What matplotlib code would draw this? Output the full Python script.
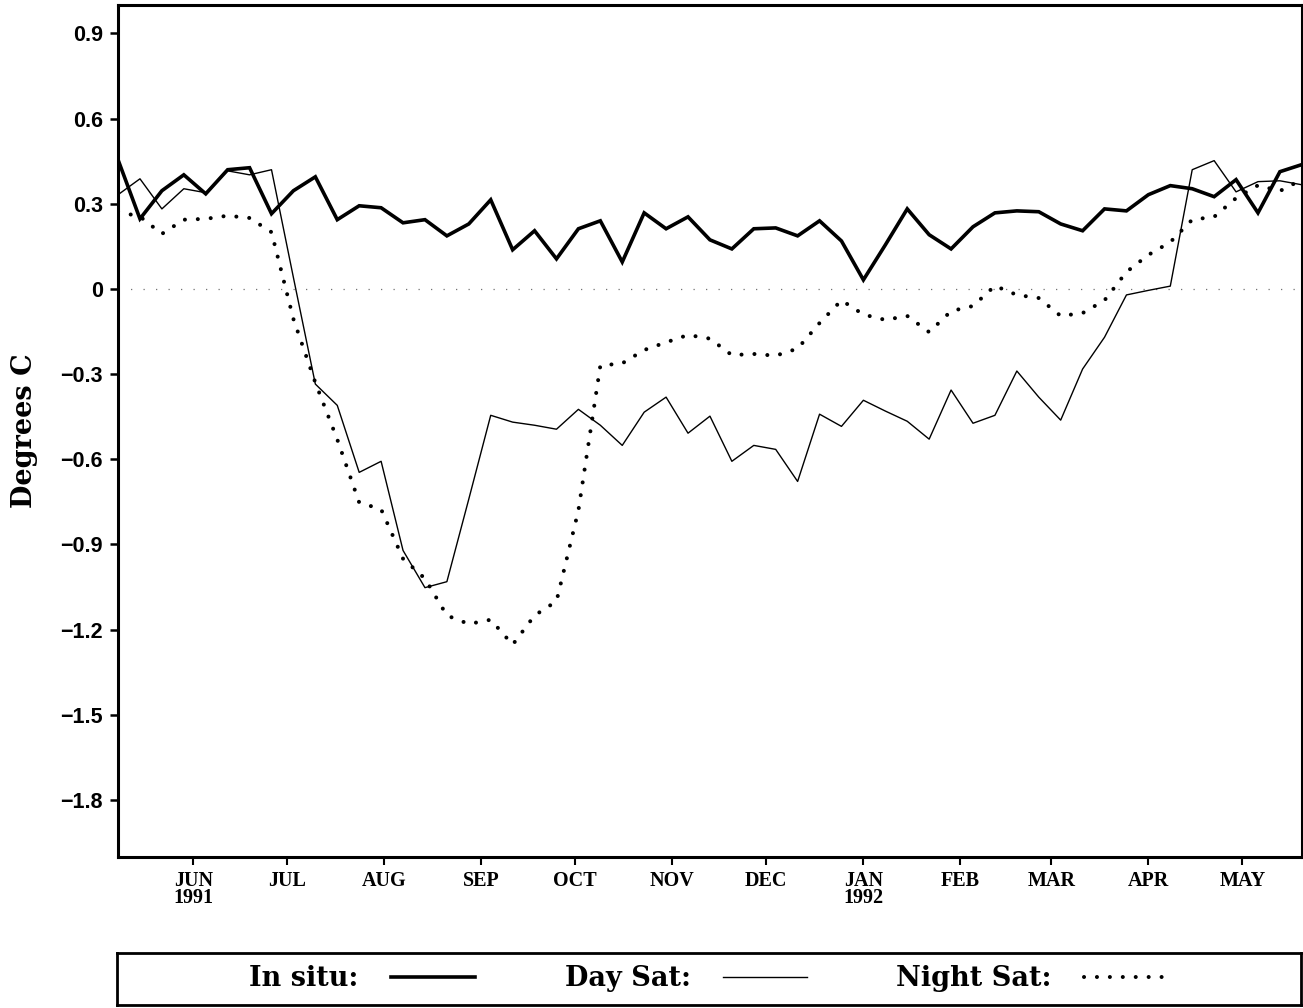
import numpy as np
import pandas as pd
import matplotlib
matplotlib.use("Agg")
import matplotlib.pyplot as plt
import matplotlib.dates as mdates
from matplotlib.ticker import FuncFormatter

# weekly temperature differences, May 1991 - May 1992
dates = pd.date_range("1991-05-08", periods=55, freq="7D")

in_situ = [0.455, 0.247, 0.346, 0.402, 0.335, 0.420, 0.427, 0.265, 0.346, 0.395,
           0.244, 0.293, 0.286, 0.233, 0.244, 0.187, 0.229, 0.314, 0.138, 0.205,
           0.106, 0.212, 0.240, 0.095, 0.268, 0.212, 0.254, 0.173, 0.141, 0.212,
           0.215, 0.187, 0.240, 0.169, 0.032, 0.155, 0.282, 0.191, 0.141, 0.219,
           0.268, 0.275, 0.272, 0.229, 0.205, 0.282, 0.275, 0.332, 0.364, 0.353,
           0.325, 0.385, 0.268, 0.413, 0.438]

day_sat = [0.332, 0.388, 0.282, 0.353, 0.339, 0.416, 0.402, 0.420, 0.040, -0.335,
           -0.410, -0.646, -0.607, -0.921, -1.052, -1.031, -0.740, -0.445, -0.469, -0.480,
           -0.494, -0.424, -0.480, -0.551, -0.434, -0.381, -0.508, -0.448, -0.607, -0.551,
           -0.565, -0.678, -0.441, -0.484, -0.392, -0.430, -0.466, -0.529, -0.356, -0.473,
           -0.445, -0.289, -0.381, -0.462, -0.282, -0.170, -0.021, -0.005, 0.010, 0.420,
           0.452, 0.342, 0.378, 0.381, 0.367]

night_sat = [0.272, 0.255, 0.194, 0.244, 0.247, 0.258, 0.250, 0.200, -0.106, -0.330,
             -0.530, -0.752, -0.776, -0.950, -1.020, -1.150, -1.180, -1.165, -1.253, -1.150,
             -1.100, -0.780, -0.270, -0.262, -0.215, -0.188, -0.162, -0.175, -0.233, -0.229,
             -0.235, -0.210, -0.120, -0.040, -0.090, -0.109, -0.095, -0.152, -0.078, -0.060,
             0.011, -0.021, -0.032, -0.095, -0.085, -0.040, 0.060, 0.120, 0.165, 0.244,
             0.254, 0.320, 0.365, 0.345, 0.385]

yticks = [-1.8, -1.5, -1.2, -0.9, -0.6, -0.3, 0, 0.3, 0.6, 0.9]

fig = plt.figure(figsize=(13.03, 10.08), dpi=100)
ax = fig.add_axes([0.0906, 0.150, 0.9085, 0.845])

ax.axhline(0, color="0.45", lw=0.9, ls=(0, (1, 9)), zorder=1)

ax.plot(dates, in_situ, color="black", lw=2.6, solid_joinstyle="miter", zorder=4,
        label="In situ:")
ax.plot(dates, day_sat, color="black", lw=1.0, zorder=3, label="Day Sat:")
ax.plot(dates, night_sat, color="black", lw=2.9, ls=(0, (0.01, 3.2)),
        dash_capstyle="round", zorder=3, label="Night Sat:")

ax.set_xlim(dates[0], dates[-1])
ax.set_ylim(-2.0, 1.0)

ax.set_yticks(yticks)
ax.yaxis.set_major_formatter(FuncFormatter(
    lambda v, p: "0" if abs(v) < 1e-9 else f"{v:.1f}".replace("-", "\u2212")))

ax.xaxis.set_major_locator(mdates.MonthLocator())


def month_label(x, pos):
    d = mdates.num2date(x)
    s = d.strftime("%b").upper()
    if pos == 0 or d.month == 1:
        s += "\n" + str(d.year)
    return s


ax.xaxis.set_major_formatter(FuncFormatter(month_label))

for sp in ["top", "right", "left", "bottom"]:
    ax.spines[sp].set_linewidth(2.2)

ax.tick_params(axis="y", direction="out", length=6, width=1.8, pad=5)
ax.tick_params(axis="x", direction="out", length=6, width=1.5, pad=4)
for t in ax.get_yticklabels():
    t.set_fontfamily("Liberation Sans")
    t.set_fontweight("bold")
    t.set_fontsize(15.5)
for t in ax.get_xticklabels():
    t.set_fontfamily("Liberation Serif")
    t.set_fontweight("bold")
    t.set_fontsize(14.5)
    t.set_linespacing(0.8)

ax.set_ylabel("Degrees C", fontfamily="DejaVu Serif", fontweight="bold",
              fontsize=19.5, labelpad=16)

# legend strip below the plot
lax = fig.add_axes([0.0898, 0.003, 0.9085, 0.052])
lax.set_xticks([])
lax.set_yticks([])
for sp in lax.spines.values():
    sp.set_linewidth(2.0)
handles, labels = ax.get_legend_handles_labels()
lax.legend(handles, labels, loc="center", ncol=3, frameon=False, markerfirst=False,
           handlelength=3.1, handletextpad=1.2, columnspacing=3.3,
           prop={"family": "DejaVu Serif", "weight": "bold", "size": 19.5})

fig.savefig("out.png", dpi=100)
